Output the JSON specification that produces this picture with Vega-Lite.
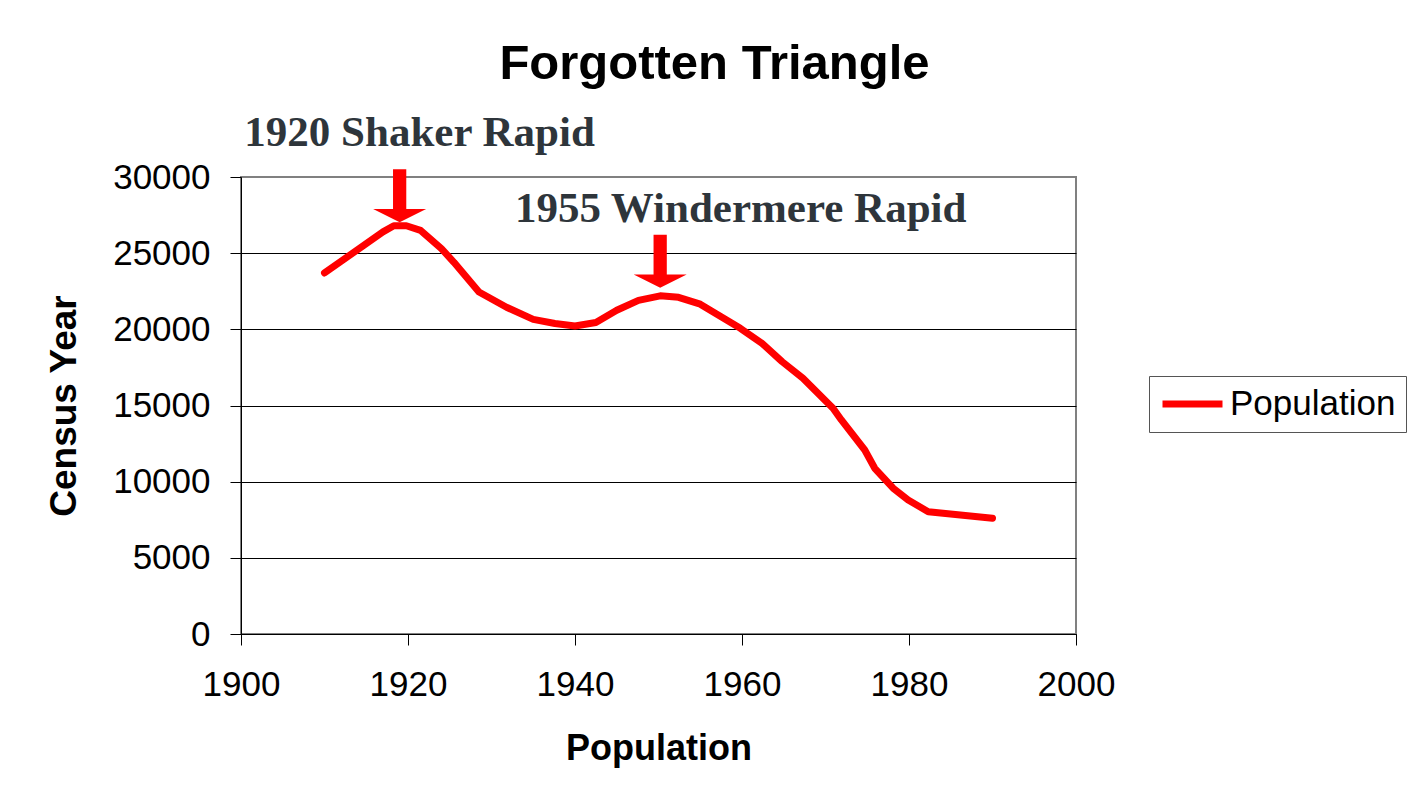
{
  "$schema": "https://vega.github.io/schema/vega-lite/v6.json",
  "width": 835,
  "height": 457,
  "autosize": {"type": "none"},
  "padding": {"left": 241, "top": 177, "right": 347, "bottom": 169},
  "background": "white",
  "title": {
    "text": "Forgotten Triangle",
    "font": "Liberation Sans",
    "fontSize": 49,
    "fontWeight": "bold",
    "color": "black",
    "anchor": "middle",
    "frame": "group",
    "dx": 56,
    "baseline": "alphabetic",
    "offset": -16
  },
  "config": {
    "view": {"stroke": "#808080", "strokeWidth": 2},
    "axis": {
      "labelFont": "Liberation Sans",
      "labelFontSize": 35,
      "labelColor": "black",
      "titleFont": "Liberation Sans",
      "titleFontWeight": "bold",
      "titleColor": "black",
      "domainColor": "black",
      "tickColor": "black",
      "tickSize": 11
    }
  },
  "layer": [
    {
      "data": {
        "values": [
          {"year": 1910, "pop": 23700, "series": "Population"},
          {"year": 1917, "pop": 26400, "series": "Population"},
          {"year": 1918.3, "pop": 26800, "series": "Population"},
          {"year": 1919.8, "pop": 26800, "series": "Population"},
          {"year": 1921.5, "pop": 26500, "series": "Population"},
          {"year": 1924, "pop": 25300, "series": "Population"},
          {"year": 1925.5, "pop": 24400, "series": "Population"},
          {"year": 1928.5, "pop": 22450, "series": "Population"},
          {"year": 1931.8, "pop": 21450, "series": "Population"},
          {"year": 1935, "pop": 20650, "series": "Population"},
          {"year": 1937.6, "pop": 20380, "series": "Population"},
          {"year": 1940, "pop": 20220, "series": "Population"},
          {"year": 1942.5, "pop": 20450, "series": "Population"},
          {"year": 1945, "pop": 21250, "series": "Population"},
          {"year": 1947.6, "pop": 21900, "series": "Population"},
          {"year": 1950.2, "pop": 22200, "series": "Population"},
          {"year": 1952.4, "pop": 22100, "series": "Population"},
          {"year": 1955, "pop": 21650, "series": "Population"},
          {"year": 1959.8, "pop": 20070, "series": "Population"},
          {"year": 1962.4, "pop": 19080, "series": "Population"},
          {"year": 1964.8, "pop": 17880, "series": "Population"},
          {"year": 1967.3, "pop": 16790, "series": "Population"},
          {"year": 1970.9, "pop": 14820, "series": "Population"},
          {"year": 1971.9, "pop": 14050, "series": "Population"},
          {"year": 1974.7, "pop": 12080, "series": "Population"},
          {"year": 1975.9, "pop": 10880, "series": "Population"},
          {"year": 1978.1, "pop": 9570, "series": "Population"},
          {"year": 1979.9, "pop": 8800, "series": "Population"},
          {"year": 1982.3, "pop": 8030, "series": "Population"},
          {"year": 1990, "pop": 7600, "series": "Population"}
        ]
      },
      "mark": {"type": "line", "strokeWidth": 7, "strokeCap": "round", "strokeJoin": "round", "clip": false},
      "encoding": {
        "x": {
          "field": "year",
          "type": "quantitative",
          "scale": {"domain": [1900, 2000], "nice": false, "zero": false},
          "axis": {
            "values": [1900, 1920, 1940, 1960, 1980, 2000],
            "format": "d",
            "grid": false,
            "labelFlush": false,
            "labelPadding": 22,
            "title": "Population",
            "titleFontSize": 36,
            "titlePadding": 29
          }
        },
        "y": {
          "field": "pop",
          "type": "quantitative",
          "scale": {"domain": [0, 30000], "nice": false},
          "axis": {
            "values": [0, 5000, 10000, 15000, 20000, 25000, 30000],
            "format": "d",
            "grid": true,
            "gridColor": {"condition": {"test": "datum.value === 30000", "value": "#808080"}, "value": "black"},
            "gridWidth": 1,
            "labelPadding": 20,
            "title": "Census Year",
            "titleFontSize": 37,
            "titlePadding": 29
          }
        },
        "color": {
          "field": "series",
          "type": "nominal",
          "scale": {"range": ["#ff0000"]},
          "legend": {
            "orient": "none",
            "legendX": 908,
            "legendY": 199,
            "title": null,
            "strokeColor": "#555555",
            "padding": 10,
            "clipHeight": 36,
            "symbolType": "stroke",
            "symbolSize": 3600,
            "symbolStrokeWidth": 7,
            "labelFont": "Liberation Sans",
            "labelFontSize": 35,
            "labelColor": "black",
            "labelLimit": 400,
            "labelOffset": 4
          }
        }
      }
    },
    {
      "data": {
        "values": [
          {"year": 1919, "pop": 28770},
          {"year": 1950.2, "pop": 24470}
        ]
      },
      "mark": {
        "type": "point",
        "shape": "M-0.25,-1L0.25,-1L0.25,0.5L1,0.5L0,1L-1,0.5L-0.25,0.5Z",
        "size": 2809,
        "filled": true,
        "fill": "#ff0000",
        "strokeWidth": 0,
        "opacity": 1,
        "clip": false
      },
      "encoding": {
        "x": {"field": "year", "type": "quantitative"},
        "y": {"field": "pop", "type": "quantitative"}
      }
    },
    {
      "data": {
        "values": [
          {"year": 1900.4, "pop": 32035, "label": "1920 Shaker Rapid"},
          {"year": 1932.8, "pop": 27050, "label": "1955 Windermere Rapid"}
        ]
      },
      "mark": {
        "type": "text",
        "align": "left",
        "baseline": "alphabetic",
        "font": "Liberation Serif",
        "fontWeight": "bold",
        "fontSize": 43,
        "color": "#2e353b",
        "clip": false
      },
      "encoding": {
        "x": {"field": "year", "type": "quantitative"},
        "y": {"field": "pop", "type": "quantitative"},
        "text": {"field": "label"}
      }
    }
  ]
}
